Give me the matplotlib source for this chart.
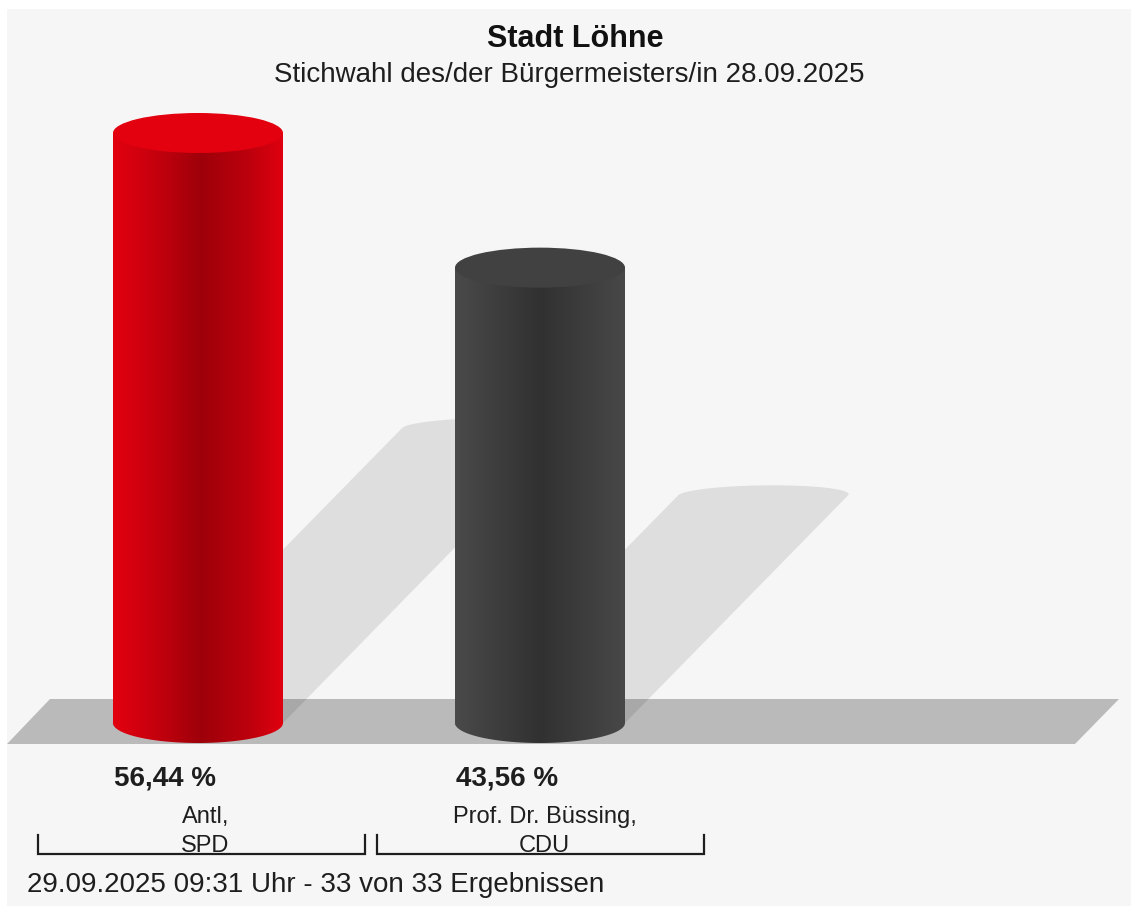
import numpy as np
import matplotlib
matplotlib.use("Agg")
import matplotlib.pyplot as plt
from matplotlib.patches import Polygon, Ellipse, Rectangle
from matplotlib.colors import LinearSegmentedColormap

# ---------------- data ----------------
title = "Stadt Löhne"
subtitle = "Stichwahl des/der Bürgermeisters/in 28.09.2025"
footer = "29.09.2025 09:31 Uhr - 33 von 33 Ergebnissen"
candidates = ["Antl,\nSPD", "Prof. Dr. Büssing,\nCDU"]
shares = [56.44, 43.56]
value_labels = ["56,44 %", "43,56 %"]

# ---------------- styles ----------------
body_cmaps = [
    LinearSegmentedColormap.from_list("red", [(0.0, "#e2000f"), (0.2, "#cc000e"), (0.52, "#9e000a"),
                                              (0.8, "#bc000d"), (1.0, "#e0000f")]),
    LinearSegmentedColormap.from_list("dark", [(0.0, "#4a4a4a"), (0.5, "#313131"), (1.0, "#484848")]),
]
top_colors = ["#e3000f", "#414141"]
FONT = "Liberation Sans"
TXT = "#1e1e1e"

W, H = 1131, 908
BASE = 723                    # pixel row of the bar base
PX = 590 / max(shares)        # pixels per percent
RX, RY_PX = 85, 20            # cylinder radius (px) and ellipse half-height (px)
RY = RY_PX / PX

def py(row):
    """pixel row (from top) -> data y"""
    return (BASE - row) / PX

fig = plt.figure(figsize=(W / 100, H / 100), dpi=100)
fig.patch.set_facecolor("white")
ax = fig.add_axes([0, 0, 1, 1])
ax.axis("off")

# panel background
ax.add_patch(Rectangle((7, py(906)), W - 7, py(9) - py(906), facecolor="#f6f6f6", edgecolor="none", zorder=0))

# floor
floor = [(7, py(744)), (50, py(699)), (1119, py(699)), (1075, py(744))]
ax.add_patch(Polygon(floor, closed=True, facecolor="#bababa", edgecolor="none", zorder=1))

t_lo = np.linspace(np.pi, 2 * np.pi, 60)
t_hi = np.linspace(0, np.pi, 60)

for i, (val, cand, lab) in enumerate(zip(shares, candidates, value_labels)):
    cx = 198 + 342 * i
    x0, x1 = cx - RX, cx + RX

    # shadow (sheared outline of the cylinder)
    xs = list(cx + RX * np.cos(t_lo)) + list(cx + RX * np.cos(t_hi))
    hs = list(RY * np.sin(t_lo)) + list(val + RY * np.sin(t_hi))
    sh = [(x + 0.49 * h * PX, 0.5 * h) for x, h in zip(xs, hs)]
    ax.add_patch(Polygon(sh, closed=True, facecolor="black", alpha=0.095, edgecolor="none", zorder=2))

    # body
    body = [(x0, val), (x0, 0)] + [(cx + RX * np.cos(t), RY * np.sin(t)) for t in t_lo] + [(x1, val)]
    bp = Polygon(body, closed=True, facecolor="none", edgecolor="none", zorder=3)
    ax.add_patch(bp)
    im = ax.imshow(np.linspace(0, 1, 256)[None, :], cmap=body_cmaps[i], aspect="auto",
                   extent=[x0, x1, -RY, val], zorder=3, interpolation="bilinear")
    im.set_clip_path(bp)

    # top
    ax.add_patch(Ellipse((cx, val), 2 * RX, 2 * RY, facecolor=top_colors[i], edgecolor="none", zorder=4))

    # value label
    ax.text(x0 + 1, py(785), lab, ha="left", va="baseline", fontsize=20, fontweight="bold",
            family=FONT, color=TXT)

    # bracket + candidate label
    bx0 = 38 + 339 * i
    bx1 = bx0 + 327
    ax.plot([bx0, bx0, bx1, bx1], [py(835), py(854), py(854), py(835)], color=TXT, lw=1.6,
            solid_joinstyle="miter", zorder=5)
    for j, line in enumerate(cand.split("\n")):
        ax.text((bx0 + bx1) / 2 + 4, py(823 + 29 * j), line, ha="center", va="baseline",
                fontsize=17, family=FONT, color=TXT)

ax.text(575, py(47), title, ha="center", va="baseline", fontsize=22, fontweight="bold",
        family=FONT, color="#111111")
ax.text(569, py(82), subtitle, ha="center", va="baseline", fontsize=20, family=FONT, color=TXT)
ax.text(27, py(892), footer, ha="left", va="baseline", fontsize=20, family=FONT, color=TXT)

ax.set_xlim(0, W)
ax.set_ylim(py(H), py(0))

fig.savefig("out.png", dpi=100, facecolor="white")
